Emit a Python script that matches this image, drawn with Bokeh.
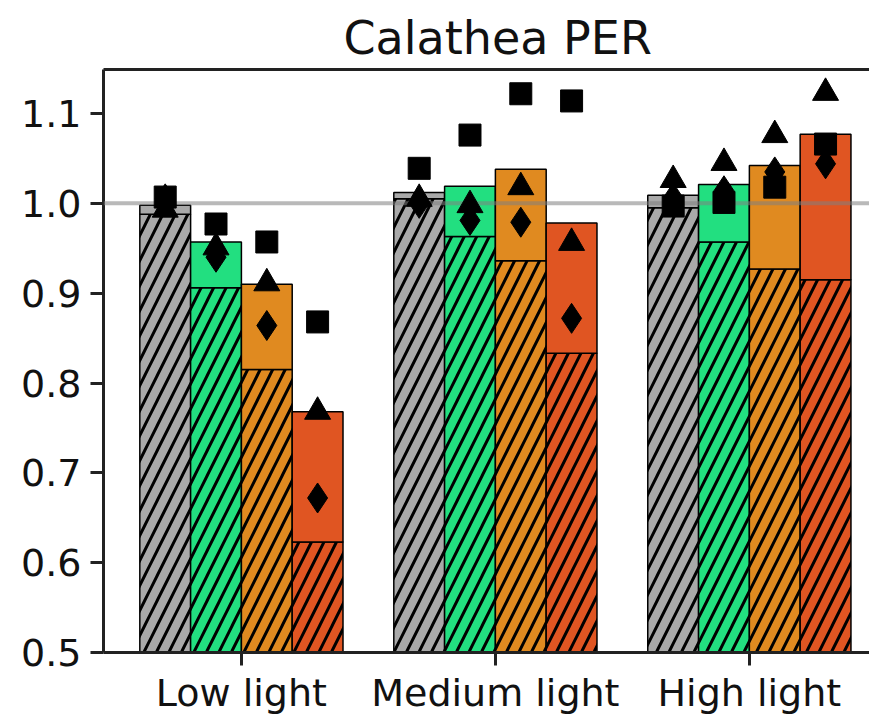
from bokeh.plotting import figure
from bokeh.models import Range1d, FixedTicker, LinearAxis, Span, ColumnDataSource
from bokeh.embed import file_html
from bokeh.resources import INLINE

# Light conditions (groups) and their tick labels
groups = [0, 1, 2]
group_labels = ["Low light", "Medium light", "High light"]

# Bar offsets inside each group and bar colours
offsets = [-0.3, -0.1, 0.1, 0.3]
bar_colors = ["#a9a9a9", "#22df80", "#e08a20", "#e05522"]
bar_width = 0.2

# Total PER for each bar (group-major order)
totals_low = [0.998, 0.957, 0.910, 0.768]
totals_medium = [1.012, 1.019, 1.038, 0.978]
totals_high = [1.009, 1.021, 1.042, 1.077]

# Hatched (lower) component of each bar
hatched_low = [0.988, 0.906, 0.815, 0.623]
hatched_medium = [1.005, 0.963, 0.936, 0.833]
hatched_high = [0.995, 0.957, 0.927, 0.915]

# Individual replicate points
squares_low = [1.007, 0.977, 0.957, 0.868]
squares_medium = [1.039, 1.076, 1.122, 1.114]
squares_high = [0.997, 1.001, 1.018, 1.066]

triangles_low = [0.993, 0.951, 0.911, 0.768]
triangles_medium = [1.005, 0.998, 1.018, 0.956]
triangles_high = [1.026, 1.045, 1.076, 1.123]

diamonds_low = [1.005, 0.940, 0.864, 0.672]
diamonds_medium = [1.000, 0.981, 0.979, 0.872]
diamonds_high = [1.006, 1.014, 1.035, 1.044]

reference_level = 1.0

FONT = "DejaVu Sans"

xs, cols = [], []
for g in groups:
    for o, c in zip(offsets, bar_colors):
        xs.append(g + o)
        cols.append(c)

totals = totals_low + totals_medium + totals_high
hatched = hatched_low + hatched_medium + hatched_high
squares = squares_low + squares_medium + squares_high
triangles = triangles_low + triangles_medium + triangles_high
diamonds = diamonds_low + diamonds_medium + diamonds_high

src = ColumnDataSource(dict(x=xs, color=cols, total=totals, hatched=hatched,
                            sq=squares, tri=triangles, dia=diamonds))

p = figure(width=869, height=717,
           x_range=Range1d(-0.543, 2.473), y_range=Range1d(0.5, 1.149),
           output_backend="svg", toolbar_location=None,
           min_border_left=103, min_border_right=0,
           min_border_top=69, min_border_bottom=62,
           title="Calathea PER")
p.outline_line_color = None
p.grid.visible = False
p.background_fill_color = "white"

p.title.text_font = FONT
p.title.text_font_size = "46px"
p.title.text_font_style = "normal"
p.title.align = "left"
p.title.offset = 240
p.title.text_color = "#111111"

# hatched lower part
p.vbar(x="x", width=bar_width, bottom=0, top="hatched", source=src,
       fill_color="color", line_color="black", line_width=1.5,
       hatch_pattern="/", hatch_color="black", hatch_weight=3, hatch_scale=25)
# solid upper part
p.vbar(x="x", width=bar_width, bottom="hatched", top="total", source=src,
       fill_color="color", line_color="black", line_width=1.5)

p.add_layout(Span(location=reference_level, dimension="width",
                  line_color="gray", line_alpha=0.55, line_width=4))

sq = p.scatter(x="x", y="sq", source=src, marker="square", size=22,
               fill_color="black", line_color="black")
tr = p.scatter(x="x", y="tri", source=src, marker="triangle", size=26,
               fill_color="black", line_color="black")
di = p.scatter(x="x", y="dia", source=src, marker="diamond", size=30,
               fill_color="black", line_color="black")
for r in (sq, tr, di):
    r.level = "overlay"

# axes styled like thin spines with outward ticks
for ax in (p.xaxis[0], p.yaxis[0]):
    ax.axis_line_width = 3
    ax.axis_line_color = "#222222"
    ax.major_tick_line_width = 3
    ax.major_tick_line_color = "#222222"
    ax.major_tick_out = 13
    ax.major_tick_in = 0
    ax.minor_tick_line_color = None
    ax.major_label_text_font = FONT
    ax.major_label_text_font_size = "38px"
    ax.major_label_text_color = "#111111"

p.xaxis[0].major_label_standoff = 5
p.yaxis[0].major_label_standoff = 9

p.xaxis[0].ticker = FixedTicker(ticks=groups)
p.xaxis[0].major_label_overrides = {g: lab for g, lab in zip(groups, group_labels)}
p.yaxis[0].ticker = FixedTicker(ticks=[0.5, 0.6, 0.7, 0.8, 0.9, 1.0, 1.1])
p.yaxis[0].major_label_overrides = {0.5: "0.5", 0.6: "0.6", 0.7: "0.7", 0.8: "0.8",
                                    0.9: "0.9", 1.0: "1.0", 1.1: "1.1"}

# top spine
top = LinearAxis(axis_line_width=3, axis_line_color="#222222",
                 major_tick_line_color=None, minor_tick_line_color=None,
                 major_label_text_font_size="0px", major_label_standoff=0)
top.ticker = FixedTicker(ticks=[])
p.add_layout(top, "above")

open("out.html", "w").write(file_html(p, INLINE))
